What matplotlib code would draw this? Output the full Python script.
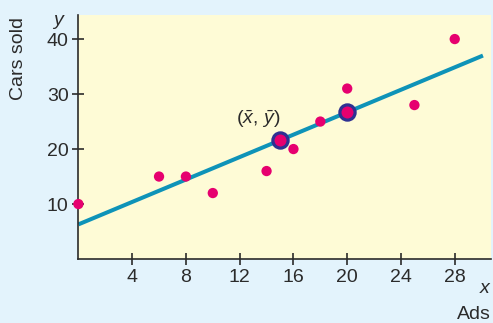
import matplotlib.pyplot as plt

# === Data ===
ads = [0, 6, 8, 10, 14, 16, 18, 20, 25, 28]
cars = [10, 15, 15, 12, 16, 20, 25, 31, 28, 40]

# regression line end points
line_x = [0, 30.1]
line_y = [6.3, 37.0]

# highlighted points on the line: the mean and one more
mark_x = [15, 20]
mark_y = [21.6, 26.7]

x_ticks = [4, 8, 12, 16, 20, 24, 28]
y_ticks = [10, 20, 30, 40]

plt.rcParams['font.family'] = ['Liberation Sans', 'DejaVu Sans']
plt.rcParams['mathtext.fontset'] = 'custom'
plt.rcParams['mathtext.rm'] = 'Liberation Sans'
plt.rcParams['mathtext.it'] = 'Liberation Sans:italic'

bg = '#E3F3FC'
panel = '#FEFBD6'
dark = '#2B2B2B'

fig = plt.figure(figsize=(4.93, 3.23), dpi=100, facecolor=bg)
ax = fig.add_axes([0.159, 0.198, 0.837, 0.756])
ax.set_facecolor(panel)

ax.plot(line_x, line_y, color='#0E93B8', lw=2.9, solid_capstyle='butt', zorder=2)
ax.scatter(ads, cars, s=55, color='#E6006F', edgecolor='none', zorder=3, clip_on=False)
ax.scatter(mark_x, mark_y, s=120, color='#E6006F', edgecolor='#2E3192', linewidth=2.3, zorder=4)

ax.text(13.4, 25.4, r'$(\bar{x},\, \bar{y})$', fontsize=14, color=dark, ha='center', va='center')

ax.set_xlim(0, 30.7)
ax.set_ylim(0, 44.4)
ax.set_xticks(x_ticks)
ax.set_yticks(y_ticks)
ax.tick_params(direction='inout', length=8, width=1.2, colors=dark, labelsize=14, pad=3)
ax.tick_params(axis='x', pad=3)

for side in ['top', 'right']:
    ax.spines[side].set_visible(False)
for side in ['left', 'bottom']:
    ax.spines[side].set_color(dark)
    ax.spines[side].set_linewidth(1.2)

fig.text(0.118, 0.962, 'y', fontsize=14, style='italic', color=dark, ha='center', va='top')
fig.text(0.984, 0.108, 'x', fontsize=14, style='italic', color=dark, ha='center', va='center')
fig.text(0.995, 0.012, 'Ads', fontsize=14, color=dark, ha='right', va='baseline')
fig.text(0.038, 0.82, 'Cars sold', fontsize=14, color=dark, rotation=90, ha='center', va='center')

fig.savefig('out.png', dpi=100, facecolor=bg)
